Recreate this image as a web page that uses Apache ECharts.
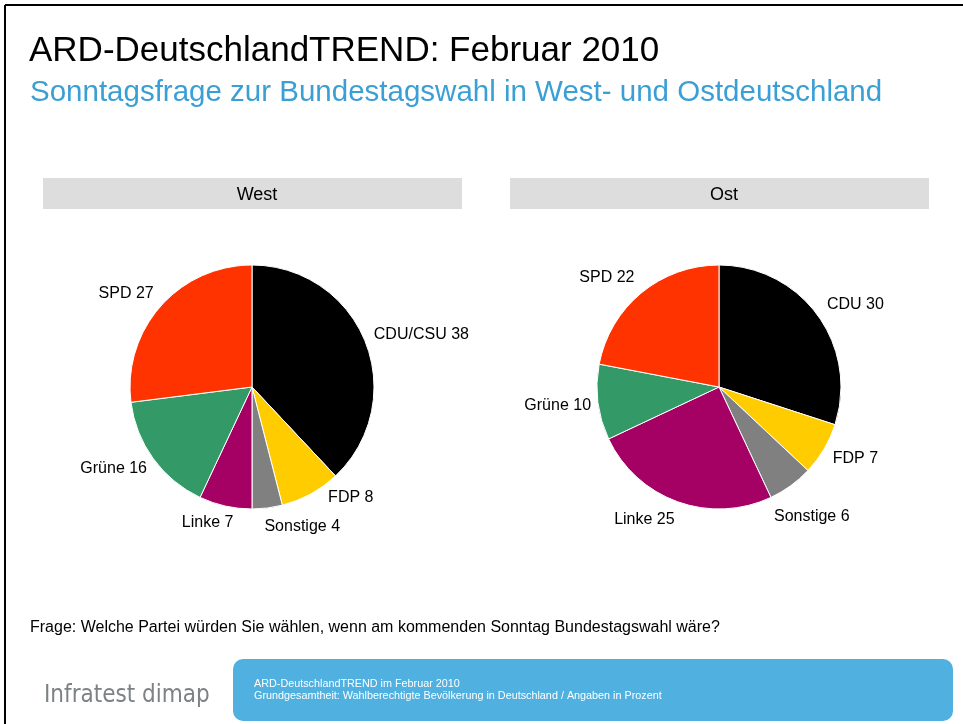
<!DOCTYPE html>
<html>
<head>
<meta charset="utf-8">
<title>ARD-DeutschlandTREND Februar 2010</title>
<script src="https://cdn.jsdelivr.net/npm/echarts@6/dist/echarts.min.js"></script>
<style>
  html, body { margin: 0; padding: 0; background: #fff; }
  #chart { width: 963px; height: 724px; }
</style>
</head>
<body>
<div id="chart"></div>
<script>
// Parteien (im Uhrzeigersinn ab 12 Uhr)
var westParteien = ['CDU/CSU', 'FDP', 'Sonstige', 'Linke', 'Grüne', 'SPD'];
var westWerte = [38, 8, 4, 7, 16, 27];
var ostParteien = ['CDU', 'FDP', 'Sonstige', 'Linke', 'Grüne', 'SPD'];
var ostWerte = [30, 7, 6, 25, 10, 22];
var farben = ['#000000', '#ffcc00', '#808080', '#a50063', '#339966', '#ff3300'];

// kleine Verschiebungen der Beschriftungen [dx, dy] wie im Original
var westVersatz = [[0, -4], [13, -4], [-4, 10], [10, 8], [1, 5], [0, -7]];
var ostVersatz = [[2, -5], [1, 5], [-22, 24], [0, 9], [2, 2], [-1, -8]];

var FONT = '"Liberation Sans", Arial, sans-serif';

function toData(names, values) {
    var out = [];
    for (var i = 0; i < names.length; i++) {
        out.push({ name: names[i], value: values[i], itemStyle: { color: farben[i] } });
    }
    return out;
}

function pieSeries(name, center, names, values, versatz) {
    return {
        name: name,
        type: 'pie',
        center: center,
        radius: 122,
        startAngle: 90,
        clockwise: true,
        animation: false,
        avoidLabelOverlap: false,
        itemStyle: { borderColor: '#ffffff', borderWidth: 1 },
        label: {
            show: true,
            position: 'outside',
            formatter: '{b} {c}',
            color: '#000',
            fontFamily: FONT,
            fontSize: 16,
            distanceToLabelLine: 0
        },
        labelLine: { show: false, length: 9, length2: 0 },
        labelLayout: function (p) {
            var v = versatz[p.dataIndex];
            return { dx: v[0], dy: v[1] };
        },
        emphasis: { disabled: true },
        data: toData(names, values)
    };
}

var chart = echarts.init(document.getElementById('chart'), null, { renderer: 'canvas' });

var option = {
    backgroundColor: '#ffffff',
    title: [
        {
            text: 'ARD-DeutschlandTREND: Februar 2010',
            left: 24, top: 29,
            textStyle: { fontFamily: FONT, fontSize: 35, fontWeight: 'normal', color: '#000' }
        },
        {
            text: 'Sonntagsfrage zur Bundestagswahl in West- und Ostdeutschland',
            left: 25, top: 73,
            textStyle: { fontFamily: FONT, fontSize: 29.5, fontWeight: 'normal', color: '#3a9fd5' }
        },
        {
            text: 'West',
            left: 252, top: 181, textAlign: 'center',
            textStyle: { fontFamily: FONT, fontSize: 18, fontWeight: 'normal', color: '#000' }
        },
        {
            text: 'Ost',
            left: 719, top: 181, textAlign: 'center',
            textStyle: { fontFamily: FONT, fontSize: 18, fontWeight: 'normal', color: '#000' }
        },
        {
            text: 'Frage: Welche Partei würden Sie wählen, wenn am kommenden Sonntag Bundestagswahl wäre?',
            left: 25, top: 615,
            textStyle: { fontFamily: FONT, fontSize: 16, fontWeight: 'normal', color: '#000' }
        },
        {
            text: 'Infratest dimap',
            left: 39, top: 679,
            textStyle: { fontFamily: '"DejaVu Sans Condensed", "DejaVu Sans", sans-serif', fontSize: 24, fontWeight: 200, color: '#7d8285' }
        },
        {
            text: 'ARD-DeutschlandTREND im Februar 2010\nGrundgesamtheit: Wahlberechtigte Bevölkerung in Deutschland / Angaben in Prozent',
            left: 249, top: 673,
            textStyle: { fontFamily: FONT, fontSize: 10.8, fontWeight: 'normal', color: '#ffffff', lineHeight: 12 }
        }
    ],
    graphic: [
        // Rahmen oben und links
        { type: 'line', z: -1, shape: { x1: 5, y1: 5, x2: 963, y2: 5 }, style: { stroke: '#000', lineWidth: 2 } },
        { type: 'line', z: -1, shape: { x1: 5, y1: 5, x2: 5, y2: 724 }, style: { stroke: '#000', lineWidth: 2 } },
        // Kopfbalken
        { type: 'rect', z: -1, shape: { x: 43, y: 178, width: 419, height: 31 }, style: { fill: '#dddddd' } },
        { type: 'rect', z: -1, shape: { x: 510, y: 178, width: 419, height: 31 }, style: { fill: '#dddddd' } },
        // Fusszeile
        { type: 'rect', z: -1, shape: { x: 233, y: 659, width: 720, height: 62, r: 10 }, style: { fill: '#50b0e0' } }
    ],
    series: [
        pieSeries('West', [252, 387], westParteien, westWerte, westVersatz),
        pieSeries('Ost', [719, 387], ostParteien, ostWerte, ostVersatz)
    ]
};

chart.setOption(option);
</script>
</body>
</html>
